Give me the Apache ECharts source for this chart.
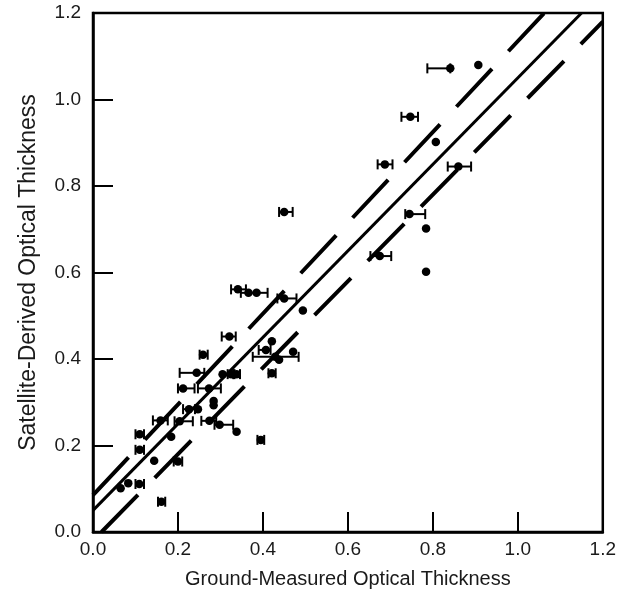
<!DOCTYPE html>
<html>
<head>
<meta charset="utf-8">
<script src="https://cdn.jsdelivr.net/npm/echarts@6/dist/echarts.min.js"></script>
<style>html,body{margin:0;padding:0;background:#fff}#c{width:619px;height:600px}</style>
</head>
<body>
<div id="c"></div>
<script>
// Ground-measured (x) vs satellite-derived (y) optical thickness
var groundX = [0.841,0.907,0.747,0.807,0.687,0.860,0.450,0.745,0.784,0.675,0.784,
  0.341,0.366,0.385,0.450,0.494,0.321,0.421,0.407,0.471,0.429,0.438,0.421,0.259,
  0.244,0.305,0.325,0.338,0.212,0.273,0.284,0.284,0.226,0.247,0.159,0.204,0.274,
  0.298,0.338,0.184,0.110,0.395,0.110,0.144,0.200,0.083,0.065,0.109,0.161];
var satY = [1.072,1.080,0.960,0.902,0.850,0.845,0.740,0.735,0.702,0.638,0.602,
  0.561,0.553,0.553,0.540,0.512,0.452,0.441,0.421,0.417,0.405,0.398,0.367,0.410,
  0.368,0.365,0.365,0.365,0.332,0.332,0.303,0.293,0.284,0.284,0.258,0.256,0.257,
  0.248,0.232,0.220,0.226,0.213,0.190,0.165,0.163,0.113,0.101,0.111,0.070];
// horizontal error bar ends (null = no bar)
var errLo = [0.787,null,0.726,null,0.670,0.835,0.438,0.735,null,0.653,null,
  0.325,null,0.348,0.434,null,0.303,null,0.390,null,0.376,null,0.413,0.251,
  0.204,null,0.317,0.330,0.200,0.247,null,null,0.212,null,0.141,0.192,0.255,
  0.286,null,null,0.100,0.387,0.100,null,0.190,null,null,0.100,0.153];
var errHi = [0.841,null,0.765,null,0.705,0.890,0.470,0.782,null,0.702,null,
  0.360,null,0.411,0.479,null,0.336,null,0.418,null,0.484,null,0.430,0.270,
  0.262,null,0.333,0.346,0.239,0.301,null,null,0.240,null,0.176,0.235,0.290,
  0.330,null,null,0.120,0.403,0.120,null,0.210,null,null,0.120,0.170];
// fitted line and bounds, endpoints in data units
var fitMid = [[0, 0.05], [1.15, 1.2]];
var fitUpper = [[0, 0.085], [1.062, 1.2]];
var fitLower = [[0.02, 0], [1.2, 1.18]];
var xTicks = [0, 0.2, 0.4, 0.6, 0.8, 1.0, 1.2];
var yTicks = [0, 0.2, 0.4, 0.6, 0.8, 1.0, 1.2];

var pts = groundX.map(function (x, i) { return [x, satY[i]]; });
var bars = [];
groundX.forEach(function (x, i) {
  if (errLo[i] != null) bars.push([errLo[i], errHi[i], satY[i]]);
});

var FONT = 'Liberation Sans, Arial, sans-serif';
var TXT = '#1a1a1a';
function axisCommon(name, gap, ticks, nameSize) {
  return {
    type: 'value', min: ticks[0], max: ticks[ticks.length - 1], interval: 0.2,
    name: name, nameLocation: 'middle', nameGap: gap,
    nameTextStyle: { fontFamily: FONT, fontSize: nameSize, color: TXT },
    axisLine: { show: true, onZero: false, lineStyle: { color: '#000', width: 2.5 } },
    axisTick: { show: true, inside: true, length: 20, lineStyle: { color: '#000', width: 2 } },
    axisLabel: { fontFamily: FONT, fontSize: 19, color: TXT, formatter: function (v) { return v.toFixed(1); } },
    splitLine: { show: false }
  };
}
var xa = axisCommon('Ground-Measured Optical Thickness', 37, xTicks, 20);
xa.axisLabel.margin = 8;
var ya = axisCommon('Satellite-Derived Optical Thickness', 53, yTicks, 23);
ya.axisLabel.margin = 12;

var chart = echarts.init(document.getElementById('c'));
chart.setOption({
  backgroundColor: '#fff',
  animation: false,
  grid: { left: 93, right: 14, top: 13, bottom: 68, show: true, borderColor: '#000', borderWidth: 2.5 },
  xAxis: xa,
  yAxis: ya,
  series: [
    { type: 'line', data: fitMid, symbol: 'none', lineStyle: { color: '#000', width: 3 } },
    { type: 'line', data: fitUpper, symbol: 'none', lineStyle: { color: '#000', width: 4, type: [52, 24] } },
    { type: 'line', data: fitLower, symbol: 'none', lineStyle: { color: '#000', width: 4, type: [52, 24], dashOffset: 0 } },
    {
      type: 'custom', data: bars,
      renderItem: function (params, api) {
        var a = api.coord([api.value(0), api.value(2)]);
        var b = api.coord([api.value(1), api.value(2)]);
        var h = 5;
        var st = { stroke: '#000', lineWidth: 2 };
        return { type: 'group', children: [
          { type: 'line', shape: { x1: a[0], y1: a[1], x2: b[0], y2: b[1] }, style: st },
          { type: 'line', shape: { x1: a[0], y1: a[1] - h, x2: a[0], y2: a[1] + h }, style: st },
          { type: 'line', shape: { x1: b[0], y1: b[1] - h, x2: b[0], y2: b[1] + h }, style: st }
        ]};
      }
    },
    { type: 'scatter', data: pts, symbol: 'circle', symbolSize: 8.5, itemStyle: { color: '#000', opacity: 1 } }
  ]
});
</script>
</body>
</html>
